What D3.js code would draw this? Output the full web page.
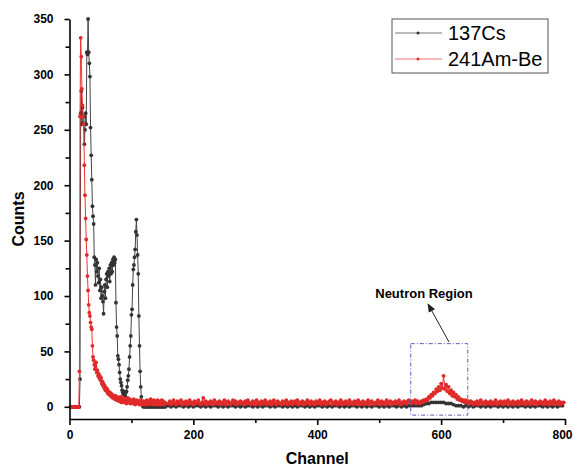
<!DOCTYPE html>
<html>
<head>
<meta charset="utf-8">
<script src="https://cdn.jsdelivr.net/npm/d3@7"></script>
<style>
  body { margin: 0; background: #fff; }
  svg { display: block; font-family: 'Liberation Sans', Arial, sans-serif; }
  .axis path, .axis line { stroke: #000; stroke-width: 1.6; }
  .axis text { font-weight: bold; font-size: 12px; fill: #000; }
  .axis-label { font-weight: bold; font-size: 16px; }
</style>
</head>
<body>
<svg id="chart" width="574" height="466"></svg>
<script>
// channels 0..159, one value per channel
const amLow = [
  0,0,0,0,0,0,0,0,0,0,0,0,0,0,0,0,
  32,262,333,316,287,272,262,255,218,191,170,151,137,118,105,92,85,82,76,72,
  70,55,45,42,38,34,36,40,31,33,28,30,26,28,24,26,21,23,19,21,
  17,19,15,17,14,16,12,14,11,13,10,12,9,11,8,10,9,7,10,8,
  6,9,7,8,5,7,9,6,4,7,5,8,6,4,7,5,3,6,8,4,
  5,7,3,5,6,4,3,5,7,4,2,5,3,6,4,3,5,2,4,6,
  3,4,2,5,3,4,2,5,3,6,4,2,5,3,4,7,3,5,2,4,
  6,3,5,2,4,3,6,4,2,5,3,4,2,6,3,5,4,2,4,3
];
const csLow = [
  0,0,0,0,0,0,0,0,0,0,0,0,0,0,0,0,
  0,25,265,285,255,270,256,262,237,250,265,255,320,318,350,320,310,298,252,227,
  205,181,172,165,135,128,110,133,122,130,118,112,125,105,115,98,108,100,95,84,
  104,110,98,115,120,108,122,118,125,113,128,120,130,122,133,128,135,130,133,94,
  72,64,46,43,38,31,25,22,19,15,13,11,14,12,10,13,14,18,24,28,
  34,45,55,64,83,88,110,124,128,135,142,158,169,155,137,120,82,55,32,18,
  9,4,1,0,1,0,1,0,0,1,0,1,0,0,1,0,1,0,0,1,
  0,1,0,1,0,0,1,0,1,0,0,1,0,1,0,0,1,0,1,0
];

// channels 160..798, step 2
const amHighStart = 160, amHighStep = 2;
const amHigh = [
  3,5,2,4,6,3,2,5,4,3,6,2,4,3,5,2,4,6,3,4,
  2,5,3,4,6,3,2,4,8,3,5,2,4,3,5,4,2,6,3,4,
  3,5,2,4,3,6,2,4,5,3,2,4,6,3,5,2,4,3,5,3,
  4,2,5,3,6,4,2,3,5,4,2,6,3,4,2,5,3,4,6,2,
  4,3,5,2,4,6,3,2,5,4,3,2,5,4,3,6,2,4,3,5,
  2,4,5,3,6,2,4,3,5,2,4,3,6,4,2,5,3,4,2,5,
  3,4,6,2,4,3,5,2,4,3,5,6,2,4,3,5,2,4,3,6,
  2,4,3,5,4,2,6,3,4,2,5,3,4,6,2,4,3,5,2,4,
  3,6,2,4,5,3,2,4,3,6,4,2,5,3,4,2,6,3,4,5,
  2,4,3,5,3,4,6,2,4,3,5,4,3,5,6,4,3,5,4,6,
  3,5,4,3,5,4,6,5,7,6,9,8,11,10,13,12,16,14,18,15,
  21,17,28,16,20,14,18,12,15,10,13,9,11,7,9,6,7,5,6,4,
  6,4,5,3,5,4,2,4,3,5,2,4,6,3,4,2,5,3,4,3,
  5,2,4,3,6,2,4,3,5,4,2,5,3,4,6,2,4,3,5,2,
  4,3,5,2,4,6,3,4,2,5,3,4,2,6,3,4,5,2,4,3,
  5,3,4,2,6,3,4,2,5,3,4,6,2,4,3,5,2,4,3,4
];

// channels 160..796, step 4
const csHighStart = 160, csHighStep = 4;
const csHigh = [
  1,0,1,0,1,1,0,1,0,1,0,1,1,0,1,0,1,0,1,1,
  0,1,0,1,0,1,1,0,1,0,1,0,1,1,0,1,0,1,0,1,
  1,0,1,0,1,1,0,1,0,1,0,1,0,1,1,0,1,0,1,0,
  1,1,0,1,0,1,0,1,1,0,1,0,1,0,1,1,0,1,0,1,
  0,1,0,1,1,0,1,0,1,0,1,1,0,1,0,1,0,1,1,1,
  1,1,1,2,3,3,4,4,4,4,4,4,3,3,3,2,1,1,1,0,
  1,0,1,0,1,1,0,1,0,1,0,1,1,0,1,0,1,0,1,0,
  1,0,1,1,0,1,0,1,0,1,1,0,1,0,1,0,1,0,1,1
];

const seriesNames = ['137Cs', '241Am-Be'];
const xTicks = [0, 200, 400, 600, 800];
const yTicks = [0, 50, 100, 150, 200, 250, 300, 350];
const neutronBox = { ch0: 551, ch1: 643, v0: -7.5, v1: 57 };

function buildSeries(low, high, start, step) {
  const pts = low.map((v, i) => ({ ch: i, v }));
  high.forEach((v, i) => pts.push({ ch: start + i * step, v }));
  return pts;
}

const csData = buildSeries(csLow, csHigh, csHighStart, csHighStep);
const amData = buildSeries(amLow, amHigh, amHighStart, amHighStep);

const svg = d3.select('#chart');
const plotLeft = 69.5, plotRight = 565, plotTop = 19, plotBottom = 419;

const x = d3.scaleLinear().domain([0, 800]).range([plotLeft, plotRight]);
const y = d3.scaleLinear().domain([-11, 350]).range([plotBottom, plotTop]);

const defs = svg.append('defs');
defs.append('clipPath').attr('id', 'plot')
  .append('rect').attr('x', plotLeft).attr('y', plotTop - 2)
  .attr('width', plotRight - plotLeft + 2).attr('height', plotBottom - plotTop + 2);

const line = d3.line().x((d) => x(d.ch)).y((d) => y(d.v));

const plot = svg.append('g').attr('clip-path', 'url(#plot)');

function drawSeries(data, lineColor, dotColor) {
  plot.append('path').datum(data)
    .attr('fill', 'none').attr('stroke', lineColor).attr('stroke-width', 1)
    .attr('d', line);
  plot.append('g').selectAll('circle').data(data).join('circle')
    .attr('cx', (d) => x(d.ch)).attr('cy', (d) => y(d.v)).attr('r', 1.9)
    .attr('fill', dotColor);
}

drawSeries(csData, '#444', '#333');
drawSeries(amData, '#e33', '#e02a2a');

// axes
const xAxisG = svg.append('g').attr('class', 'axis').attr('transform', `translate(0,${plotBottom})`)
  .call(d3.axisBottom(x).tickValues(xTicks).tickSize(6).tickSizeOuter(0).tickPadding(5));
xAxisG.selectAll('.tick text').filter((d) => d === 800).attr('dx', -3);
svg.append('g').attr('class', 'axis').attr('transform', `translate(0,${plotBottom})`)
  .call(d3.axisBottom(x).tickValues([100, 300, 500, 700]).tickSize(4).tickSizeOuter(0).tickFormat(''))
  .select('.domain').remove();

svg.append('g').attr('class', 'axis').attr('transform', `translate(${plotLeft},0)`)
  .call(d3.axisLeft(y).tickValues(yTicks).tickSize(5).tickSizeOuter(0).tickPadding(11));
svg.append('g').attr('class', 'axis').attr('transform', `translate(${plotLeft},0)`)
  .call(d3.axisLeft(y).tickValues([25, 75, 125, 175, 225, 275, 325]).tickSize(4).tickSizeOuter(0).tickFormat(''))
  .select('.domain').remove();

svg.append('text').attr('class', 'axis-label').attr('text-anchor', 'middle')
  .attr('x', (plotLeft + plotRight) / 2).attr('y', 464).text('Channel');
svg.append('text').attr('class', 'axis-label').attr('text-anchor', 'middle')
  .attr('transform', `translate(24,${(plotTop + plotBottom) / 2}) rotate(-90)`).text('Counts');

// legend
const legend = svg.append('g');
legend.append('rect').attr('x', 392).attr('y', 19).attr('width', 156).attr('height', 54)
  .attr('fill', '#fff').attr('stroke', '#555').attr('stroke-width', 1);
const legendColors = [['#777', '#333'], ['#e77', '#e02a2a']];
seriesNames.forEach((name, i) => {
  const ly = 33 + i * 26;
  legend.append('line').attr('x1', 395).attr('x2', 442).attr('y1', ly).attr('y2', ly)
    .attr('stroke', legendColors[i][0]).attr('stroke-width', 1);
  legend.append('circle').attr('cx', 418).attr('cy', ly).attr('r', 1.5).attr('fill', legendColors[i][1]);
  legend.append('text').attr('x', 448).attr('y', ly + 7).attr('font-size', 20).text(name);
});

// neutron region annotation
svg.append('rect')
  .attr('x', x(neutronBox.ch0)).attr('y', y(neutronBox.v1))
  .attr('width', x(neutronBox.ch1) - x(neutronBox.ch0)).attr('height', y(neutronBox.v0) - y(neutronBox.v1))
  .attr('fill', 'none').attr('stroke', '#5a5ac0').attr('stroke-width', 1).attr('stroke-dasharray', '4,2,1,2');

defs.append('marker').attr('id', 'arrow').attr('viewBox', '0 0 10 10')
  .attr('refX', 9).attr('refY', 5).attr('markerWidth', 9).attr('markerHeight', 9).attr('orient', 'auto')
  .attr('markerUnits', 'userSpaceOnUse')
  .append('path').attr('d', 'M0,1 L10,5 L0,9 Z').attr('fill', '#222');
svg.append('line').attr('x1', 449).attr('y1', 342).attr('x2', 428).attr('y2', 304)
  .attr('stroke', '#222').attr('stroke-width', 1).attr('marker-end', 'url(#arrow)');
svg.append('text').attr('x', 424).attr('y', 298).attr('text-anchor', 'middle')
  .attr('font-size', 13).attr('font-weight', 'bold').text('Neutron Region');
</script>
</body>
</html>
